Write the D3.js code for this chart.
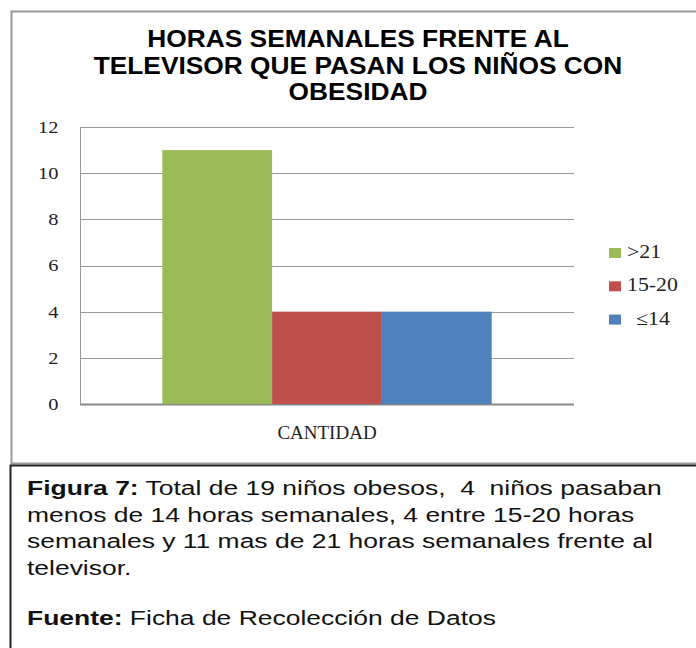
<!DOCTYPE html>
<html>
<head>
<meta charset="utf-8">
<script src="https://cdn.jsdelivr.net/npm/d3@7"></script>
<style>
  body { margin: 0; background: #fff; }
  svg { display: block; }
  text { white-space: pre; }
</style>
</head>
<body>
<div id="chart"></div>
<script>
// datos del grafico
const categorias = ["CANTIDAD"];
const series = [">21", "15-20", "\u226414"];
const valores = [11, 4, 4];
const colores = ["#9BBB59", "#C0504D", "#4F81BD"];
const yTicks = [0, 2, 4, 6, 8, 10, 12];
const titulo = ["HORAS SEMANALES FRENTE AL", "TELEVISOR QUE PASAN LOS NI\u00d1OS CON", "OBESIDAD"];
const leyendaTexto = [
    [{ b: "Figura 7:", t: " Total de 19 ni\u00f1os obesos,  4  ni\u00f1os pasaban" }],
    [{ t: "menos de 14 horas semanales, 4 entre 15-20 horas" }],
    [{ t: "semanales y 11 mas de 21 horas semanales frente al" }],
    [{ t: "televisor." }],
    [{ b: "Fuente:", t: " Ficha de Recolecci\u00f3n de Datos" }]
];

var width = 696, height = 648;
var svg = d3.select("#chart").append("svg")
    .attr("width", width)
    .attr("height", height);

// marco del grafico
svg.append("rect")
    .attr("x", 11.5).attr("y", 11.5)
    .attr("width", 700).attr("height", 452)
    .attr("fill", "none").attr("stroke", "#999").attr("stroke-width", 2);

// marco de la leyenda
svg.append("rect")
    .attr("x", 10.5).attr("y", 465.5)
    .attr("width", 700).attr("height", 200)
    .attr("fill", "none").attr("stroke", "#222").attr("stroke-width", 2);

// titulo (la imagen original esta algo estirada en horizontal)
svg.append("g").selectAll("text")
    .data(titulo)
    .enter()
    .append("text")
    .attr("transform", (d, i) => "translate(358," + (47 + i * 26.5) + ")scale(1.12,1)")
    .attr("text-anchor", "middle")
    .style("font-family", "Arial, 'Liberation Sans', sans-serif")
    .style("font-weight", "bold")
    .style("font-size", "23.5px")
    .text(d => d);

var margin = { top: 127, left: 80 };
var pw = 494, ph = 277;
var g = svg.append("g").attr("transform", "translate(" + margin.left + "," + margin.top + ")");

var y = d3.scaleLinear().domain([0, 12]).range([ph, 0]);
var x0 = d3.scaleBand().domain(categorias).range([0, pw]).paddingInner(0).paddingOuter(0.25);
var x1 = d3.scaleBand().domain(series).range([0, x0.bandwidth()]);

// lineas de cuadricula
g.append("g")
    .selectAll("line")
    .data(yTicks)
    .enter()
    .append("line")
    .attr("x1", 0).attr("x2", pw)
    .attr("y1", d => Math.round(y(d)) + 0.5)
    .attr("y2", d => Math.round(y(d)) + 0.5)
    .attr("stroke", d => d === 0 ? "#888" : "#999")
    .attr("stroke-width", d => d === 0 ? 2 : 1);

g.append("line")
    .attr("x1", 0.5).attr("x2", 0.5)
    .attr("y1", 0).attr("y2", ph)
    .attr("stroke", "#999");

// barras
g.append("g")
    .selectAll("rect")
    .data(valores)
    .enter()
    .append("rect")
    .attr("x", (d, i) => x0(categorias[0]) + x1(series[i]))
    .attr("y", d => y(d))
    .attr("width", x1.bandwidth())
    .attr("height", d => ph - y(d))
    .attr("fill", (d, i) => colores[i]);

// eje y
var yAxis = g.append("g")
    .call(d3.axisLeft(y).tickValues(yTicks).tickSize(0).tickPadding(18));
yAxis.select(".domain").remove();
yAxis.selectAll("text")
    .attr("transform", "scale(1.2,1)")
    .style("font-family", "'Liberation Serif', serif")
    .style("font-size", "17px")
    .attr("fill", "#222");

// eje x
var xAxis = g.append("g")
    .attr("transform", "translate(0," + ph + ")")
    .call(d3.axisBottom(x0).tickSize(0).tickPadding(21.5));
xAxis.select(".domain").remove();
xAxis.selectAll("text")
    .style("font-family", "'Liberation Serif', serif")
    .style("font-size", "19px")
    .attr("fill", "#222");

// leyenda
var ley = svg.append("g").attr("transform", "translate(609,248)");
var item = ley.selectAll("g")
    .data(series)
    .enter()
    .append("g")
    .attr("transform", (d, i) => "translate(0," + i * 33.3 + ")");
item.append("rect")
    .attr("width", 12).attr("height", 10)
    .attr("fill", (d, i) => colores[i]);
item.append("text")
    .attr("transform", (d, i) => "translate(" + (i === 2 ? 27 : 18) + ",10)scale(1.15,1)")
    .style("font-family", "'Liberation Serif', serif")
    .style("font-size", "19px")
    .attr("fill", "#222")
    .text(d => d);

// texto de la figura
var txtY = [495, 521.5, 548, 575, 625];
var txt = svg.append("g").selectAll("text")
    .data(leyendaTexto)
    .enter()
    .append("text")
    .attr("transform", (d, i) => "translate(27," + txtY[i] + ")scale(1.26,1)")
    .style("font-family", "Arial, 'Liberation Sans', sans-serif")
    .style("font-size", "21px")
    .attr("fill", "#111");
txt.each(function (d) {
    var t = d3.select(this);
    d.forEach(p => {
        if (p.b) t.append("tspan").style("font-weight", "bold").text(p.b);
        t.append("tspan").text(p.t);
    });
});
</script>
</body>
</html>
